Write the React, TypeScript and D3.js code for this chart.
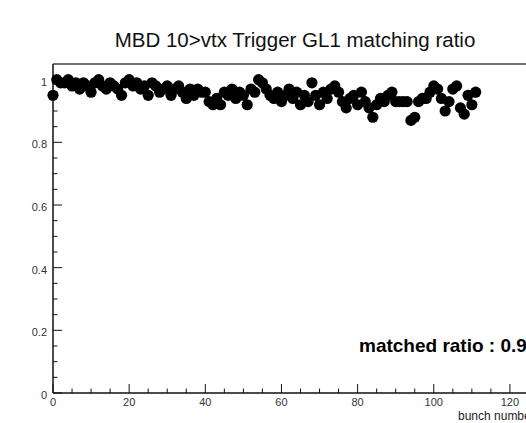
import React from "react";
import * as d3 from "d3";

const title = "MBD 10>vtx Trigger GL1 matching ratio";
const xTitle = "bunch number";
const annotation = "matched ratio : 0.95";

const bunchNumbers: number[] = Array.from({ length: 112 }, (_, i) => i);
const ratios: number[] = [
  0.95, 1.0, 0.99, 0.99, 1.0, 0.98, 0.99, 0.97, 0.99, 0.98,
  0.96, 0.99, 1.0, 0.98, 0.97, 0.99, 0.98, 0.97, 0.95, 0.99,
  1.0, 0.98, 0.99, 0.97, 0.98, 0.95, 0.99, 0.98, 0.96, 0.97,
  0.98, 0.95, 0.97, 0.98, 0.96, 0.94, 0.97, 0.95, 0.97, 0.96,
  0.96, 0.93, 0.92, 0.94, 0.92, 0.96, 0.95, 0.97, 0.94, 0.96,
  0.95, 0.92, 0.97, 0.96, 1.0, 0.99, 0.97, 0.95, 0.94, 0.96,
  0.93, 0.95, 0.97, 0.94, 0.96, 0.92, 0.95, 0.93, 0.99, 0.95,
  0.92, 0.96, 0.94, 0.97, 0.98, 0.96, 0.93, 0.91, 0.94, 0.95,
  0.92, 0.96, 0.93, 0.91, 0.88, 0.92, 0.94, 0.93, 0.95, 0.96,
  0.93, 0.93, 0.93, 0.93, 0.87, 0.88, 0.93, 0.94, 0.94, 0.96,
  0.98, 0.97, 0.94, 0.90, 0.93, 0.97, 0.98, 0.91, 0.89, 0.95,
  0.92, 0.96,
];
const xMajorTicks: number[] = [0, 20, 40, 60, 80, 100, 120];
const yMajorTicks: number[] = [0, 0.2, 0.4, 0.6, 0.8, 1];
const yTickLabels: string[] = ["0", "0.2", "0.4", "0.6", "0.8", "1"];

export default function App() {
  const W = 526;
  const H = 423;
  const x = d3.scaleLinear().domain([0, 130]).range([53, 548]);
  const y = d3.scaleLinear().domain([0, 1.05]).range([393, 64]);
  const font = "'Liberation Sans', Arial, Helvetica, sans-serif";

  const xMinor = d3.range(0, 131, 5).filter((v) => v % 20 !== 0);
  const yMinor = d3.range(0, 21).map((i) => i * 0.05).filter((v, i) => i % 4 !== 0);

  return (
    <svg
      width={W}
      height={H}
      style={{ position: "absolute", left: 0, top: 0, background: "#fff" }}
      fontFamily={font}
    >
      <rect x={0} y={0} width={W} height={H} fill="#fff" />
      {/* frame */}
      <line x1={x(0)} x2={x(130)} y1={y(1.05)} y2={y(1.05)} stroke="#444" strokeWidth={1.5} />
      <line x1={x(0)} x2={x(130)} y1={y(0)} y2={y(0)} stroke="#111" strokeWidth={1.5} />
      <line x1={x(0)} x2={x(0)} y1={y(0)} y2={y(1.05)} stroke="#111" strokeWidth={1.5} />
      {/* x ticks */}
      {xMajorTicks.map((t) => (
        <line key={"xm" + t} x1={x(t)} x2={x(t)} y1={y(0)} y2={y(0) - 9} stroke="#111" strokeWidth={1} />
      ))}
      {xMinor.map((t) => (
        <line key={"xn" + t} x1={x(t)} x2={x(t)} y1={y(0)} y2={y(0) - 4.5} stroke="#111" strokeWidth={1} />
      ))}
      {xMajorTicks.map((t) => (
        <text key={"xl" + t} x={x(t)} y={y(0) + 13} fontSize={11} textAnchor="middle" fill="#333">
          {String(t)}
        </text>
      ))}
      {/* y ticks */}
      {yMajorTicks.map((t) => (
        <line key={"ym" + t} x1={x(0)} x2={x(0) + 9} y1={y(t)} y2={y(t)} stroke="#111" strokeWidth={1} />
      ))}
      {yMinor.map((t) => (
        <line key={"yn" + t} x1={x(0)} x2={x(0) + 4.5} y1={y(t)} y2={y(t)} stroke="#111" strokeWidth={1} />
      ))}
      {yMajorTicks.map((t, i) => (
        <text key={"yl" + t} x={x(0) - 6} y={y(t) + 6} fontSize={11} textAnchor="end" fill="#333">
          {yTickLabels[i]}
        </text>
      ))}
      {/* markers */}
      {ratios.map((r, i) => (
        <circle key={"p" + i} cx={x(bunchNumbers[i])} cy={y(r)} r={5.6} fill="#000" />
      ))}
      {/* title */}
      <text x={295} y={47} fontSize={20.5} textAnchor="middle" fill="#111">
        {title}
      </text>
      <text x={458} y={420} fontSize={12} fill="#222">
        {xTitle}
      </text>
      <text x={359} y={352} fontSize={19} fontWeight="bold" fill="#000">
        {annotation}
      </text>
    </svg>
  );
}
